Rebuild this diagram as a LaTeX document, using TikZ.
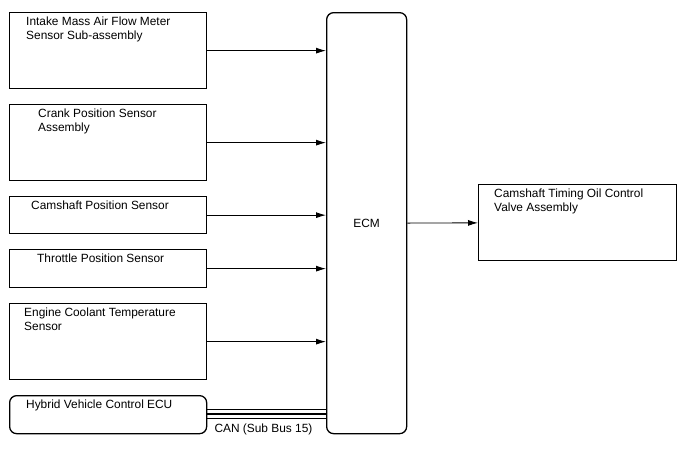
\documentclass[tikz,border=0pt]{standalone}
\usepackage{fontspec}
\setmainfont{Liberation Sans}
\usetikzlibrary{arrows.meta, positioning}

\begin{document}
\begin{tikzpicture}[
  x=1pt, y=-1pt,
  blk/.style={rectangle, draw, line width=1.3pt, anchor=north west, inner sep=0pt,
              minimum width=197pt},
  lbl/.style={anchor=north west, align=left, inner sep=0pt,
              font=\fontsize{11.9}{14}\selectfont},
  arrow/.style={-{Latex[length=10pt, width=6pt]}, line width=0.9pt},
  bus/.style={line width=1.6pt},
]
  \useasboundingbox (0,0) rectangle (688,463);

  % sensors
  \node[blk, minimum height=76pt] (maf) at (9,12) {};
  \node[blk, minimum height=76pt] (crank) at (9,104) {};
  \node[blk, minimum height=37pt] (cam) at (9,196) {};
  \node[blk, minimum height=38pt] (thr) at (9,249) {};
  \node[blk, minimum height=76pt] (ect) at (9,303) {};
  \node[blk, minimum height=38pt, rounded corners=7pt] (hvecu) at (9,395) {};

  \node[lbl] (mafT) at ([shift={(17,4.5)}]maf.north west) {Intake Mass Air Flow Meter\\Sensor Sub-assembly};
  \node[lbl] (crankT) at ([shift={(29,4.5)}]crank.north west) {Crank Position Sensor\\Assembly};
  \node[lbl] (camT) at ([shift={(22,4.5)}]cam.north west) {Camshaft Position Sensor};
  \node[lbl] (thrT) at ([shift={(28,4.5)}]thr.north west) {Throttle Position Sensor};
  \node[lbl] (ectT) at ([shift={(15,4.5)}]ect.north west) {Engine Coolant Temperature\\Sensor};
  \node[lbl] (hvecuT) at ([shift={(17,4.5)}]hvecu.north west) {Hybrid Vehicle Control ECU};

  % ECM and actuator
  \node[blk, minimum width=80pt, minimum height=421pt, rounded corners=7pt,
        font=\fontsize{11.9}{14}\selectfont] (ecm) at (326,12) {ECM};
  \node[blk, minimum width=198pt, minimum height=76pt] (ocv) at (478,184) {};
  \node[lbl] (ocvT) at ([shift={(16,4.5)}]ocv.north west) {Camshaft Timing Oil Control\\Valve Assembly};

  % signals
  \foreach \s in {maf, crank, cam, thr, ect}
    \draw[arrow] (\s.east) -- (\s.east -| ecm.west);
  \draw[arrow] (ecm) -- (ocv);

  % CAN bus
  \foreach \d in {5, 0.5, -4}
    \draw[bus] ([yshift=\d pt]hvecu.east) -- ([yshift=\d pt]hvecu.east -| ecm.west);
  \node[lbl] (canT) at ([shift={(7,9)}]hvecu.east) {CAN (Sub Bus 15)};
\end{tikzpicture}
\end{document}
